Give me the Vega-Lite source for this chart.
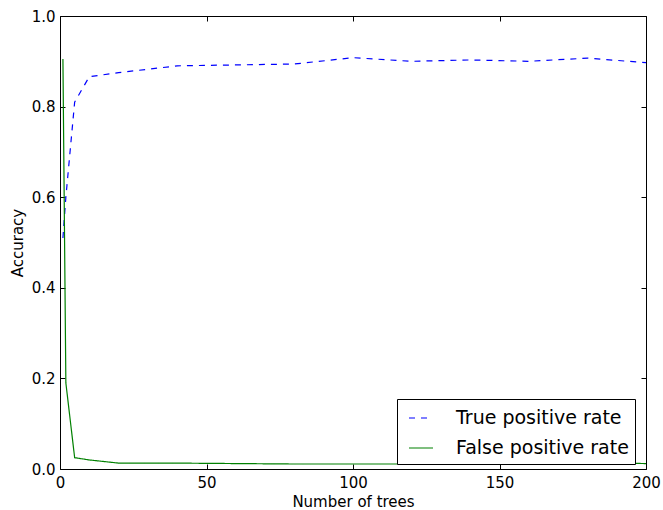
{
  "$schema": "https://vega.github.io/schema/vega-lite/v6.json",
  "width": 586,
  "height": 453,
  "autosize": {"type": "none"},
  "padding": {"left": 60, "top": 16, "right": 17, "bottom": 41},
  "background": "white",
  "config": {
    "font": "DejaVu Sans",
    "view": {"stroke": "black", "strokeWidth": 1},
    "axis": {
      "grid": false,
      "domain": false,
      "labelFlush": false,
      "labelOverlap": false,
      "tickColor": "black",
      "labelColor": "black",
      "titleColor": "black",
      "labelFont": "DejaVu Sans",
      "titleFont": "DejaVu Sans",
      "labelFontSize": 15,
      "titleFontSize": 15,
      "titleFontWeight": "normal"
    }
  },
  "data": {
    "values": [
      {"trees": 1, "rate": 0.51, "series": "True positive rate"},
      {"trees": 2, "rate": 0.60, "series": "True positive rate"},
      {"trees": 5, "rate": 0.81, "series": "True positive rate"},
      {"trees": 10, "rate": 0.866, "series": "True positive rate"},
      {"trees": 20, "rate": 0.875, "series": "True positive rate"},
      {"trees": 40, "rate": 0.89, "series": "True positive rate"},
      {"trees": 60, "rate": 0.892, "series": "True positive rate"},
      {"trees": 80, "rate": 0.894, "series": "True positive rate"},
      {"trees": 100, "rate": 0.908, "series": "True positive rate"},
      {"trees": 120, "rate": 0.900, "series": "True positive rate"},
      {"trees": 140, "rate": 0.903, "series": "True positive rate"},
      {"trees": 160, "rate": 0.900, "series": "True positive rate"},
      {"trees": 180, "rate": 0.907, "series": "True positive rate"},
      {"trees": 200, "rate": 0.897, "series": "True positive rate"},
      {"trees": 1, "rate": 0.905, "series": "False positive rate"},
      {"trees": 2, "rate": 0.19, "series": "False positive rate"},
      {"trees": 5, "rate": 0.025, "series": "False positive rate"},
      {"trees": 10, "rate": 0.02, "series": "False positive rate"},
      {"trees": 20, "rate": 0.013, "series": "False positive rate"},
      {"trees": 40, "rate": 0.013, "series": "False positive rate"},
      {"trees": 60, "rate": 0.012, "series": "False positive rate"},
      {"trees": 80, "rate": 0.011, "series": "False positive rate"},
      {"trees": 100, "rate": 0.011, "series": "False positive rate"},
      {"trees": 120, "rate": 0.011, "series": "False positive rate"},
      {"trees": 140, "rate": 0.011, "series": "False positive rate"},
      {"trees": 160, "rate": 0.012, "series": "False positive rate"},
      {"trees": 180, "rate": 0.014, "series": "False positive rate"},
      {"trees": 200, "rate": 0.012, "series": "False positive rate"}
    ]
  },
  "layer": [
    {
      "mark": {"type": "line", "strokeWidth": 1.2},
      "encoding": {
        "x": {
          "field": "trees", "type": "quantitative",
          "scale": {"domain": [0, 200], "nice": false, "zero": false},
          "axis": {"title": "Number of trees", "values": [0, 50, 100, 150, 200], "tickSize": -5, "labelPadding": 11, "titlePadding": 4}
        },
        "y": {
          "field": "rate", "type": "quantitative",
          "scale": {"domain": [0, 1], "nice": false, "zero": false},
          "axis": {"title": "Accuracy", "values": [0, 0.2, 0.4, 0.6, 0.8, 1.0], "format": ".1f", "tickSize": -5, "labelPadding": 10, "titlePadding": 6}
        },
        "color": {
          "field": "series", "type": "nominal",
          "scale": {"domain": ["True positive rate", "False positive rate"], "range": ["#0000ff", "#008000"]},
          "legend": {
            "title": null,
            "orient": "none",
            "legendX": 337,
            "legendY": 383,
            "strokeColor": "black",
            "fillColor": "white",
            "padding": 6,
            "symbolType": "stroke",
            "symbolSize": 576,
            "symbolStrokeWidth": 1.2,
            "symbolOffset": 5,
            "labelFontSize": 19,
            "labelLimit": 400,
            "labelColor": "black",
            "labelOffset": 22,
            "rowPadding": 7,
            "cornerRadius": 0
          }
        },
        "strokeDash": {
          "field": "series", "type": "nominal",
          "scale": {"domain": ["True positive rate", "False positive rate"], "range": [[6, 6], [1, 0]]},
          "legend": null
        }
      }
    },
    {
      "mark": {"type": "line", "opacity": 0},
      "encoding": {
        "x": {
          "field": "trees", "type": "quantitative",
          "scale": {"domain": [0, 200], "nice": false, "zero": false},
          "axis": {"orient": "top", "title": null, "labels": false, "values": [0, 50, 100, 150, 200], "tickSize": -5}
        },
        "y": {
          "field": "rate", "type": "quantitative",
          "scale": {"domain": [0, 1], "nice": false, "zero": false},
          "axis": {"orient": "right", "title": null, "labels": false, "values": [0, 0.2, 0.4, 0.6, 0.8, 1.0], "tickSize": -5}
        },
        "detail": {"field": "series"}
      }
    }
  ],
  "resolve": {"axis": {"x": "independent", "y": "independent"}}
}
